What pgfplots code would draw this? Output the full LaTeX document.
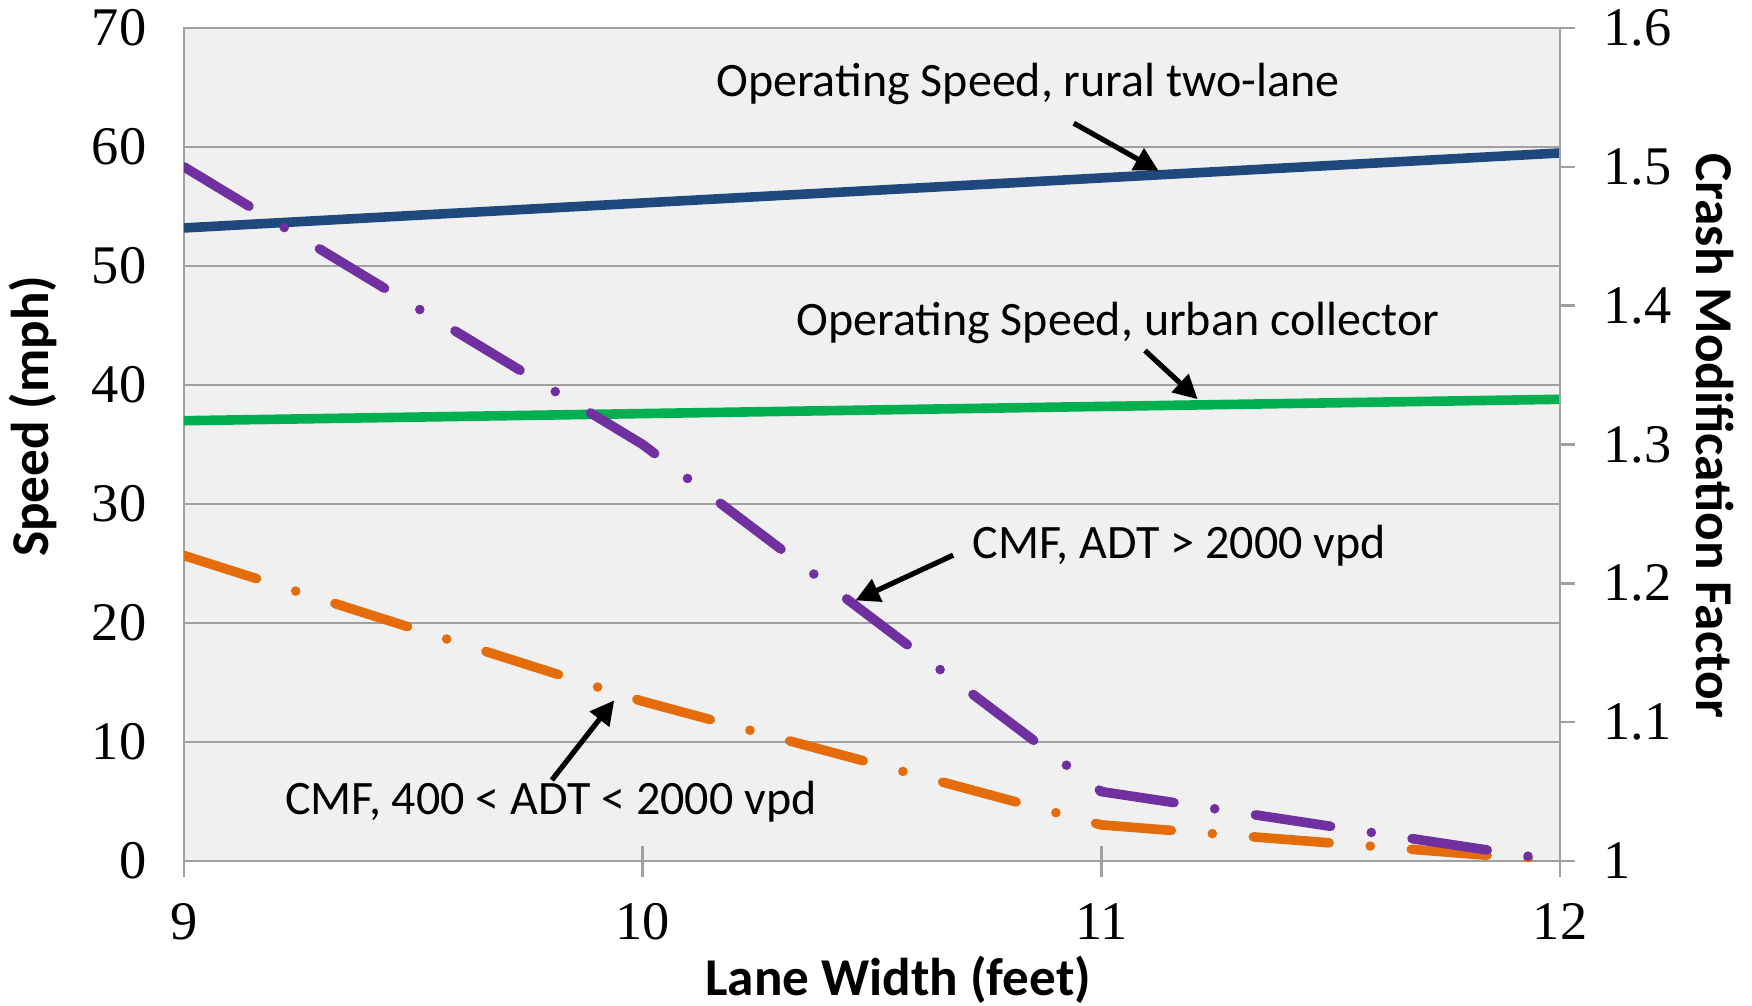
\documentclass[border=0pt]{standalone}
\usepackage{pgfplots}
\pgfplotsset{compat=1.18}
\usepackage{fontspec}
\usetikzlibrary{arrows.meta}
\setmainfont{Liberation Serif}
\newfontfamily\calibri{Carlito}

\definecolor{bgray}{RGB}{240,240,240}
\definecolor{lgray}{RGB}{160,160,160}
\definecolor{rural}{RGB}{31,73,125}
\definecolor{urban}{RGB}{0,176,80}
\definecolor{cmfhi}{RGB}{112,48,160}
\definecolor{cmflo}{RGB}{228,108,10}

\pgfplotsset{
  common/.style={
    scale only axis, width=344pt, height=208.25pt,
    xmin=9, xmax=12,
    /pgf/number format/assume math mode=true,
    tick label style={font=\fontsize{13.6}{16}\selectfont},
    label style={font=\calibri\bfseries\fontsize{13.3}{16}\selectfont},
  },
  dashdot/.style={line width=2.4pt, line cap=round,
    dash pattern=on 19pt off 10.3pt on 0pt off 10.3pt},
}

\begin{document}
\begin{tikzpicture}
\path[use as bounding box] (-46pt,-36pt) rectangle (392pt,215.25pt);

\begin{axis}[common,
    ymin=0, ymax=70,
    xtick={9,10,11,12},
    ytick={0,10,...,70},
    xtick pos=bottom, ytick pos=left,
    tick align=center, major tick length=7.75pt,
    xtick style={draw=lgray, line width=0.6pt},
    ytick style={draw=none},
    xticklabel style={yshift=-3.2pt},
    yticklabel style={xshift=-2pt},
    axis line style={draw=lgray, line width=0.6pt},
    axis background/.style={fill=bgray},
    ymajorgrids, grid style={lgray, line width=0.6pt},
    xlabel={Lane Width (feet)},
    ylabel={Speed (mph)},
    xlabel style={at={(axis description cs:0.519,-0.1429)}, anchor=center},
    ylabel style={at={(axis description cs:-0.1097,0.534)}, anchor=center},
  ]
  % operating speed
  \addplot[rural, line width=2.4pt] coordinates {(9,53.2) (10,55.3) (11,57.4) (12,59.5)};
  \addplot[urban, line width=2.4pt] coordinates {(9,37.0) (10,37.6) (11,38.2) (12,38.8)};
\end{axis}

\begin{axis}[common,
    ymin=1, ymax=1.6,
    ytick={1,1.1,1.2,1.3,1.4,1.5,1.6},
    xtick=\empty,
    axis x line=none, axis y line*=right, ytick pos=right,
    tick align=outside, major tick length=3.75pt,
    ytick style={draw=lgray, line width=0.6pt},
    yticklabel style={xshift=3.6pt},
    axis line style={draw=lgray, line width=0.6pt, -},
    ylabel={Crash Modification Factor},
    ylabel style={at={(axis description cs:1.1126,0.510)}, anchor=center, rotate=180},
  ]
  % CMF lines
  \addplot[cmflo, dashdot] coordinates {(9,1.22) (10,1.115) (11,1.026) (12,1.0)};
  \addplot[cmfhi, dashdot] coordinates {(9,1.5) (10,1.3) (11,1.05) (12,1.0)};

  % annotations
  \begin{scope}[every node/.style={font=\calibri\fontsize{12}{14}\selectfont, anchor=center, inner sep=0pt}]
    \node at (axis cs:10.84,1.5597) {Operating Speed, rural two-lane};
    \node at (axis cs:11.036,1.3874) {Operating Speed, urban collector};
    \node at (axis cs:11.17,1.2271) {CMF, ADT > 2000 vpd};
    \node at (axis cs:9.80,1.0429) {CMF, 400 < ADT < 2000 vpd};
  \end{scope}
  \begin{scope}[line width=1.3pt, -{Triangle[length=6pt,width=6pt]}]
    \draw (axis cs:10.94,1.5314) -- (axis cs:11.125,1.4971);
    \draw (axis cs:11.095,1.3677) -- (axis cs:11.21,1.3326);
    \draw (axis cs:10.677,1.2203) -- (axis cs:10.464,1.1877);
    \draw (axis cs:9.802,1.0583) -- (axis cs:9.938,1.1157);
  \end{scope}
\end{axis}
\end{tikzpicture}
\end{document}
